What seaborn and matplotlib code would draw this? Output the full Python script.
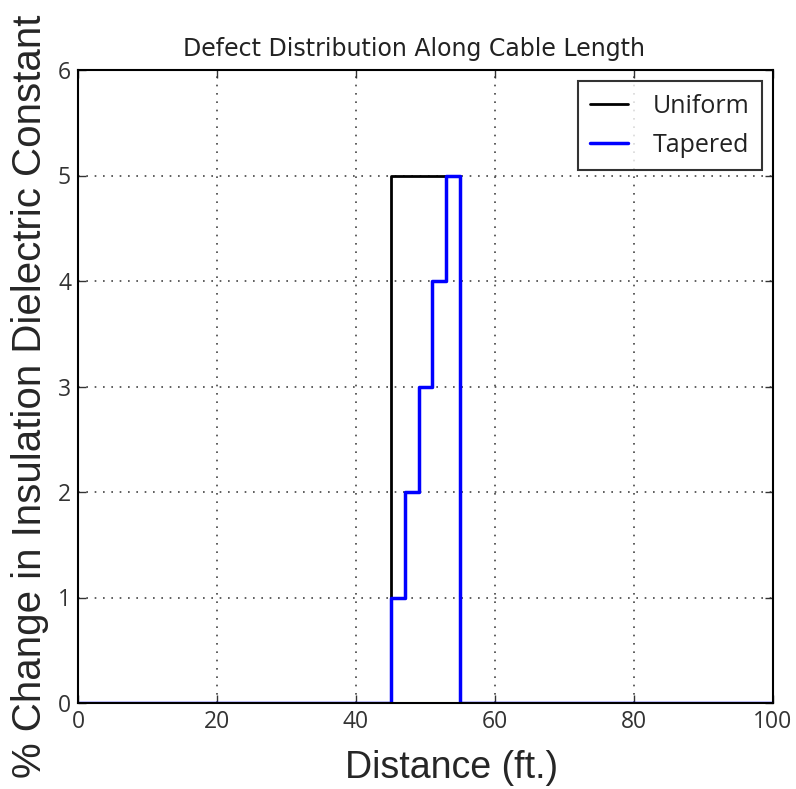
import matplotlib
matplotlib.use("Agg")
import matplotlib.pyplot as plt
import seaborn as sns
import pandas as pd

uniform_x = [0, 45, 55, 100]
uniform_y = [0, 5, 0, 0]
tapered_x = [0, 45, 47, 49, 51, 53, 55, 100]
tapered_y = [0, 1, 2, 3, 4, 5, 0, 0]
x_ticks = [0, 20, 40, 60, 80, 100]
y_ticks = [0, 1, 2, 3, 4, 5, 6]

sns.set_style("white")
plt.rcParams['font.family'] = ['Open Sans', 'DejaVu Sans']

fig = plt.figure(figsize=(7.96, 7.89), dpi=100)
ax = fig.add_axes([78/796, 1-703/789, (773-78)/796, (703-70)/789])

df_u = pd.DataFrame({"x": uniform_x, "y": uniform_y})
df_t = pd.DataFrame({"x": tapered_x, "y": tapered_y})
sns.lineplot(data=df_u, x="x", y="y", ax=ax, color="black", lw=2,
             drawstyle="steps-post", label="Uniform", sort=False)
sns.lineplot(data=df_t, x="x", y="y", ax=ax, color="#0000ff", lw=2.5,
             drawstyle="steps-post", label="Tapered", sort=False)

ax.set_xlim(0, 100)
ax.set_ylim(0, 6)
ax.set_xticks(x_ticks)
ax.set_yticks(y_ticks)
ax.tick_params(direction="in", length=6, width=1, labelsize=16.5, colors="#333333",
               top=True, right=True, left=True, bottom=True, pad=5)
ax.grid(True, color="#444444", linestyle=(0, (1, 4)), linewidth=1.2)
for s in ax.spines.values():
    s.set_color("black")
    s.set_linewidth(1.5)

ax.set_title("Defect Distribution Along Cable Length", fontsize=17, color="#222222",
             pad=10, family=["DejaVu Sans"], x=0.483)
ax.set_xlabel("Distance (ft.)", fontsize=27, family=["Liberation Sans"])
ax.xaxis.set_label_coords(0.538, -0.075)
ax.set_ylabel("% Change in Insulation Dielectric Constant", fontsize=29,
              family=["Liberation Sans"])
ax.yaxis.set_label_coords(-0.042, 0.485)

leg = ax.legend(loc="upper right", fontsize=18, frameon=True, fancybox=False,
                edgecolor="black", handlelength=1.5, borderpad=0.5, labelspacing=0.55,
                handletextpad=1.0, borderaxespad=0.45)
leg.get_frame().set_linewidth(1.5)
for t in leg.get_texts():
    t.set_color("#222222")

fig.savefig("out.png", dpi=100)
